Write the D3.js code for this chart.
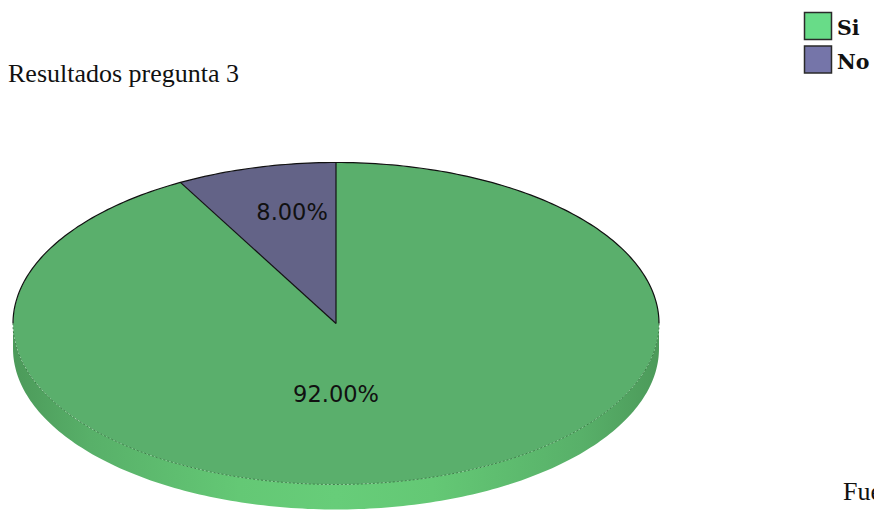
<!DOCTYPE html>
<html>
<head>
<meta charset="utf-8">
<script src="https://cdn.jsdelivr.net/npm/d3@7/dist/d3.min.js"></script>
<style>
  html, body { margin: 0; padding: 0; background: #ffffff; }
  svg { display: block; }
</style>
</head>
<body>
<script>
// Survey answers for question 3
const categories = ["Si", "No"];
const values = [92, 8];
const labels = ["92.00%", "8.00%"];

const topColors = ["#5aaf6c", "#636387"];
const legendColors = ["#68dc88", "#7575a9"];

const W = 874, H = 510;
const svg = d3.select("body").append("svg").attr("width", W).attr("height", H);

// Ellipse of the pie's top face and the thickness of its rim
const cx = 336, cy = 323.5, rx = 323, ry = 161, depth = 25;

const pie = d3.pie().sort(null).value(d => d)(values);
const pt = (a, dy = 0) => [cx + rx * Math.sin(a), cy - ry * Math.cos(a) + dy];
const line = d3.line();

// Rim shading: lighter towards the front, darker at the sides
const defs = svg.append("defs");
const grad = defs.append("linearGradient")
  .attr("id", "rim").attr("gradientUnits", "userSpaceOnUse")
  .attr("x1", cx - rx).attr("x2", cx + rx).attr("y1", 0).attr("y2", 0);
[[0, "#4c9a5a"], [0.12, "#58b069"], [0.35, "#64c875"], [0.5, "#67cd79"],
 [0.65, "#64c875"], [0.88, "#58b069"], [1, "#4c9a5a"]]
  .forEach(([o, c]) => grad.append("stop").attr("offset", o).attr("stop-color", c));

// Front rim (only the front half, angles from 90° to 270°, is visible)
const front = d3.range(0, 181).map(i => Math.PI / 2 + i * Math.PI / 180);
const rimPts = front.map(a => pt(a)).concat(front.slice().reverse().map(a => pt(a, depth)));
svg.append("path")
  .attr("d", line(rimPts) + "Z")
  .attr("fill", "url(#rim)");

// Top faces of the slices
const arc = d3.arc().innerRadius(0).outerRadius(1);
svg.append("g")
  .attr("transform", `translate(${cx},${cy}) scale(${rx},${ry})`)
  .selectAll("path")
  .data(pie)
  .join("path")
  .attr("d", arc)
  .attr("fill", (d, i) => topColors[i]);

// Outline of the back half of the top face
const back = d3.range(0, 181).map(i => -Math.PI / 2 + i * Math.PI / 180);
svg.append("path")
  .attr("d", line(back.map(a => pt(a))))
  .attr("fill", "none").attr("stroke", "#111").attr("stroke-width", 1.2);

// Subtle edge where the top face meets the front rim
svg.append("path")
  .attr("d", line(front.map(a => pt(a))))
  .attr("fill", "none").attr("stroke", "#3d8049").attr("stroke-width", 1)
  .attr("stroke-dasharray", "2,2");

// Radial edges of the small slice
const small = pie[1];
[small.startAngle, small.endAngle].forEach(a => {
  svg.append("line")
    .attr("x1", cx).attr("y1", cy)
    .attr("x2", pt(a)[0]).attr("y2", pt(a)[1])
    .attr("stroke", "#111").attr("stroke-width", 1.2);
});

// Percentage labels, placed relative to the ellipse (fractions of rx, ry)
const labelAnchor = [[0, 0.49], [-0.136, -0.64]];
svg.append("g")
  .selectAll("text")
  .data(pie)
  .join("text")
  .attr("x", (d, i) => cx + labelAnchor[i][0] * rx)
  .attr("y", (d, i) => cy + labelAnchor[i][1] * ry)
  .attr("text-anchor", "middle")
  .attr("font-family", "DejaVu Sans, sans-serif")
  .attr("font-size", 22.5)
  .attr("fill", "#111")
  .text((d, i) => labels[i]);

// Legend
const legend = svg.append("g").attr("transform", "translate(804,12)");
const item = legend.selectAll("g")
  .data(categories)
  .join("g")
  .attr("transform", (d, i) => `translate(0,${i * 33.5})`);
item.append("rect")
  .attr("x", 0.5).attr("y", 0.5).attr("width", 27).attr("height", 27)
  .attr("fill", (d, i) => legendColors[i])
  .attr("stroke", "#2a2a2a").attr("stroke-width", 1.5);
item.append("text")
  .attr("x", 33).attr("y", 23)
  .attr("font-family", "DejaVu Serif, serif")
  .attr("font-weight", "bold")
  .attr("font-size", 20.5)
  .attr("fill", "#111")
  .text(d => d);

// Title and source note
svg.append("text")
  .attr("x", 8).attr("y", 82)
  .attr("font-family", "Liberation Serif, Times New Roman, serif")
  .attr("font-size", 26)
  .attr("fill", "#111")
  .text("Resultados pregunta 3");

svg.append("text")
  .attr("x", 843).attr("y", 500)
  .attr("font-family", "Liberation Serif, Times New Roman, serif")
  .attr("font-size", 26)
  .attr("fill", "#111")
  .text("Fuente");
</script>
</body>
</html>
